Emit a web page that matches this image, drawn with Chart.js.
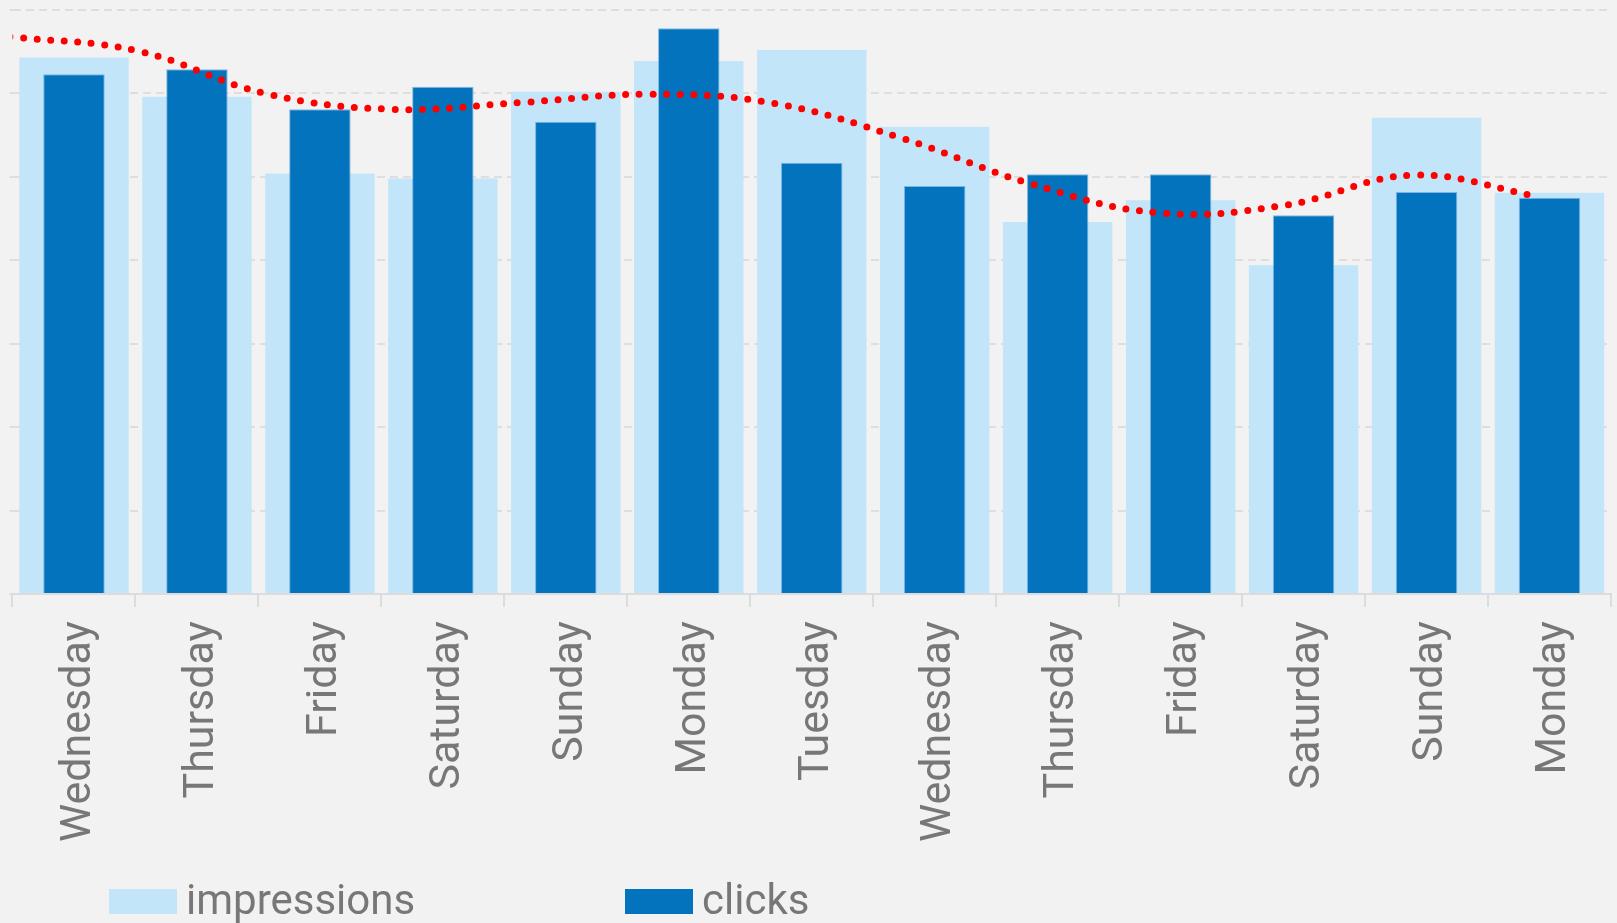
<!DOCTYPE html>
<html>
<head>
<meta charset="utf-8">
<script src="https://cdn.jsdelivr.net/npm/chart.js@4"></script>
<style>
    html, body { margin: 0; padding: 0; background: #f2f2f2; }
    #wrap { width: 1617px; height: 923px; position: relative; }
</style>
</head>
<body>
<div id="wrap"><canvas id="chart"></canvas></div>
<script>
const days = ['Wednesday', 'Thursday', 'Friday', 'Saturday', 'Sunday', 'Monday', 'Tuesday',
    'Wednesday', 'Thursday', 'Friday', 'Saturday', 'Sunday', 'Monday'];
const impressions = [643, 596, 504, 498, 602, 639, 652, 560, 446, 472, 394, 571, 481];
const clicks = [623, 629, 581, 608, 566, 678, 517, 489, 503, 503, 454, 482, 475];
// trend line, read at evenly spaced positions
const trendPos = [0, 1, 2, 3, 4, 5, 6, 7, 8, 9, 10, 11, 12];
const trend = [668, 651, 600, 581, 589, 599, 588, 546, 492, 457, 466, 502, 476];

const TEXT = '#777777';
const LIGHT = '#c3e5fa';
const DARK = '#0273bc';

// legend drawn by hand so the item spacing matches
const bottomLegend = {
    id: 'bottomLegend',
    afterDraw(chart) {
        const ctx = chart.ctx;
        const items = [
            { label: chart.data.datasets[2].label, color: LIGHT, x: 109 },
            { label: chart.data.datasets[1].label, color: DARK, x: 625 }
        ];
        ctx.save();
        ctx.font = '42px Roboto';
        ctx.textBaseline = 'alphabetic';
        ctx.textAlign = 'left';
        for (const it of items) {
            ctx.fillStyle = it.color;
            ctx.fillRect(it.x, 889, 68, 25);
            ctx.fillStyle = TEXT;
            ctx.fillText(it.label, it.x + 77, 914);
        }
        ctx.restore();
    }
};

new Chart(document.getElementById('chart'), {
    data: {
        labels: days,
        datasets: [
            {
                type: 'line',
                label: 'trend',
                xAxisID: 'xl',
                data: trendPos.map((p, i) => ({ x: p, y: trend[i] })),
                borderColor: '#ff0000',
                borderWidth: 7,
                borderDash: [0, 13.6],
                borderCapStyle: 'round',
                pointRadius: 0,
                tension: 0.4,
                fill: false,
                order: 0
            },
            {
                type: 'bar',
                label: 'clicks',
                data: clicks,
                backgroundColor: DARK,
                borderColor: 'rgba(90,160,215,0.7)',
                borderWidth: 1,
                grouped: false,
                barPercentage: 0.5,
                categoryPercentage: 1,
                order: 1
            },
            {
                type: 'bar',
                label: 'impressions',
                data: impressions,
                backgroundColor: LIGHT,
                grouped: false,
                barPercentage: 0.89,
                categoryPercentage: 1,
                order: 2
            }
        ]
    },
    options: {
        responsive: true,
        maintainAspectRatio: false,
        animation: false,
        layout: {
            padding: { left: 9.5, right: 6, top: 10, bottom: 67 }
        },
        plugins: {
            legend: { display: false },
            tooltip: { enabled: false }
        },
        scales: {
            x: {
                type: 'category',
                offset: true,
                grid: {
                    offset: true,
                    drawOnChartArea: false,
                    tickLength: 13,
                    color: '#dcdcdc',
                    lineWidth: 2
                },
                border: { color: '#dcdcdc', width: 2 },
                ticks: {
                    color: TEXT,
                    font: { family: 'Roboto', size: 43 },
                    minRotation: 90,
                    maxRotation: 90,
                    autoSkip: false,
                    padding: 14,
                    labelOffset: 5
                }
            },
            xl: {
                type: 'linear',
                display: false,
                min: 0.02,
                max: 12.556
            },
            y: {
                min: 0,
                max: 700,
                ticks: { display: false, stepSize: 100 },
                grid: {
                    color: '#dedede',
                    lineWidth: 2,
                    tickLength: 3,
                    tickBorderDash: [8, 5]
                },
                border: { display: false, dash: [8, 5] }
            }
        }
    },
    plugins: [bottomLegend]
});
</script>
</body>
</html>
